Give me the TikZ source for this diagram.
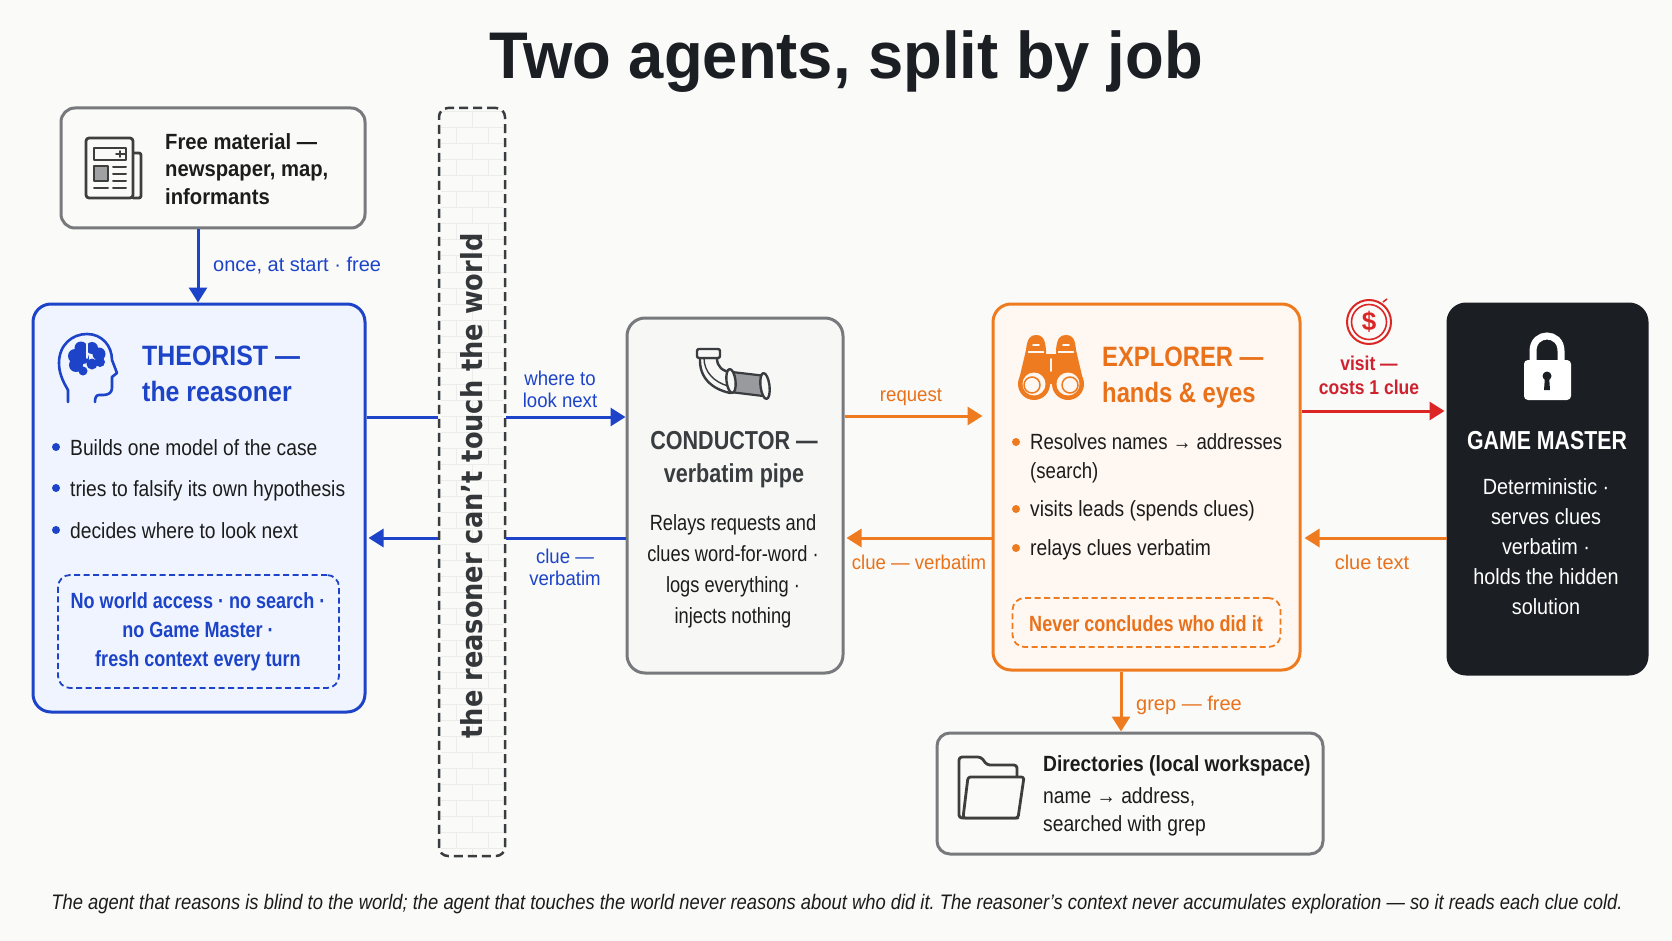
\documentclass[tikz,border=0pt]{standalone}
\usepackage{fontspec}
\setmainfont{Liberation Sans}
\newfontfamily\cond[FakeStretch=0.875]{Liberation Sans}
\newfontfamily\condn[FakeStretch=0.845]{Liberation Sans}
\newfontfamily\condg[FakeStretch=0.90]{Liberation Sans}
\newfontfamily\condc[FakeStretch=0.83]{Liberation Sans}
\newfontfamily\condx[FakeStretch=0.82]{Liberation Sans}
\newfontfamily\labf[FakeStretch=0.93]{Liberation Sans}
\newfontfamily\freef[FakeStretch=0.92]{Liberation Sans}
\newfontfamily\headf[FakeStretch=0.89]{Liberation Sans}
\newfontfamily\heade[FakeStretch=0.85]{Liberation Sans}
\newfontfamily\titlef[FakeStretch=0.96]{Liberation Sans}
\newfontfamily\dejav[FakeStretch=0.885]{DejaVu Sans}
\usetikzlibrary{arrows.meta}
\definecolor{bgc}{HTML}{FAFAF8}
\definecolor{blu}{HTML}{1D44C8}
\definecolor{blufill}{HTML}{EFF4FE}
\definecolor{org}{HTML}{EE7B20}
\definecolor{orgtxt}{HTML}{E8711A}
\definecolor{orgfill}{HTML}{FFF7F1}
\definecolor{redc}{HTML}{DC2626}
\definecolor{redt}{HTML}{CF2230}
\definecolor{dark}{HTML}{1B1F24}
\definecolor{gry}{HTML}{77797C}
\definecolor{ink}{HTML}{1C1C1C}
\definecolor{condcol}{HTML}{3A3D40}
\definecolor{brick}{HTML}{ECECEA}
\definecolor{condfill}{HTML}{F7F7F6}
\newcommand{\fs}[2]{\fontsize{#1}{#2}\selectfont}
\tikzset{
  panel/.style={draw, line width=3, rounded corners=18, inner sep=0},
  panelg/.style={panel, draw=gry, fill=#1},
  dashbox/.style={draw=#1, line width=1.8, dash pattern=on 6 off 3.5, rounded corners=12, inner sep=0},
  conn/.style={line width=3, draw=#1},
  arr/.style={line width=3, draw=#1, fill=#1, -{Triangle[length=15,width=18]}},
  txt/.style={inner sep=0, text=#1},
  lab/.style={inner sep=0, text=#1, font=\labf\fs{20}{22}, align=center},
  labw/.style={inner sep=0, text=#1, font=\fs{20}{22}, align=center},
  body/.style={inner sep=0, text=ink, font=\cond\fs{22}{29}, anchor=mid west},
  dotb/.style={circle, inner sep=0, minimum size=8, fill=#1},
  iconline/.style={line width=#1, line cap=round, line join=round},
}
\begin{document}
\begin{tikzpicture}[x=1pt,y=-1pt]
\useasboundingbox (0,0) rectangle (1672,941);
\fill[bgc] (0,0) rectangle (1672,941);

\node[inner sep=0, text=dark, font=\titlef\bfseries\fs{66}{70}] (title) at (846,62) {Two agents, split by job};

% ---- wall
\node[draw=none, fill=bgc, minimum width=66, minimum height=748, inner sep=0] (wallbg) at (472,482) {};
\begin{scope}
  \clip (441,110) rectangle (503,854);
  \foreach \r in {0,...,46}{
    \pgfmathsetmacro{\yy}{112+\r*16}
    \draw[brick, line width=1] (441,\yy) -- (503,\yy);
    \pgfmathsetmacro{\off}{mod(\r,2)*16}
    \foreach \c in {0,1,2}{
      \pgfmathsetmacro{\xx}{440+\off+\c*32}
      \draw[brick, line width=1] (\xx,\yy) -- (\xx,\yy+16);
    }
  }
\end{scope}
\node[draw=condcol, line width=2.5, dash pattern=on 9 off 5, rounded corners=9, minimum width=66, minimum height=748, inner sep=0] (wall) at (472,482) {};
\node[inner sep=0, rotate=90, text=condcol!90!black, font=\dejav\bfseries\fs{29}{32}] (walltext) at (472,486) {the reasoner can’t touch the world};

% ---- free material
\node[panelg=bgc, minimum width=304, minimum height=120, rounded corners=14] (free) at (213,168) {};
\node[txt=ink, font=\freef\bfseries\fs{22}{27.5}, align=left, anchor=west] (freetext) at (165,169) {Free material —\\newspaper, map,\\informants};
% newspaper icon
\draw[ink!85, iconline=2.8, rounded corners=2] (133,153) -- (141,153) -- (141,198) -- (133,198);
\draw[ink!85, iconline=2.8, fill=bgc, rounded corners=3] (86,138) rectangle (133,198);
\draw[ink!85, iconline=2] (94,148) rectangle (126,160);
\draw[ink!85, iconline=1.6] (116,154) -- (125,154) (120,151) -- (120,157);
\draw[ink!85, fill=gry!70, iconline=1.8] (94,166) rectangle (108,181);
\draw[ink!85, iconline=2] (113,167) -- (126,167) (113,174) -- (126,174) (113,181) -- (126,181) (94,188) -- (108,188) (113,188) -- (126,188);

% ---- theorist
\node[panel, draw=blu, fill=blufill, minimum width=332, minimum height=408] (theorist) at (199,508) {};
% head icon
\draw[blu, iconline=2.6] (68,402) -- (68,390) .. controls (62,380) and (59,372) .. (59,363) .. controls (59,345) and (72,334) .. (87,334) .. controls (102,334) and (112,346) .. (112,360) -- (117,373) -- (112,377) -- (112,388) .. controls (112,393) and (108,395) .. (103,395) -- (99,395) .. controls (96,395) and (95,398) .. (95,402);
\fill[blu] (75,356) circle (7) (81,348) circle (6.5) (76,365) circle (7) (83,371) circle (4.5) (92,348) circle (6) (99,354) circle (6.5) (100,362) circle (5) (92,364) circle (5.5) (83,358) circle (6);
\draw[blufill, iconline=1.6] (87,344) -- (87,358);
\node[txt=blu, font=\headf\bfseries\fs{28}{36}, align=left, anchor=west] (theoristh) at (142,374) {THEORIST —\\the reasoner};
\node[dotb=blu] (td1) at (56,447) {};
\node[dotb=blu] (td2) at (56,488) {};
\node[dotb=blu] (td3) at (56,530) {};
\node[body] (tb1) at (70,453) {Builds one model of the case};
\node[body] (tb2) at (70,494) {tries to falsify its own hypothesis};
\node[body] (tb3) at (70,536) {decides where to look next};
\node[dashbox=blu, minimum width=281, minimum height=113] (tdash) at (198.5,631.5) {};
\node[txt=blu, font=\condx\bfseries\fs{22}{28.7}, align=center] (tdasht) at (198,632) {No world access · no search ·\\no Game Master ·\\fresh context every turn};

% ---- conductor
\node[panelg=condfill, minimum width=216, minimum height=355] (conductor) at (735,495.5) {};
% pipe icon
\draw[condcol, fill=condfill, iconline=2.4] (700,358) .. controls (699,378) and (712,389) .. (730,393) -- (733,373) .. controls (722,371) and (717,367) .. (717,358) -- cycle;
\draw[condcol, iconline=1.4] (704,358) .. controls (704,372) and (714,382) .. (728,386);
\draw[condcol, fill=condfill, iconline=2.4, rounded corners=2] (697,349) rectangle (720,358);
\draw[condcol, fill=gry!75, iconline=2.2] (732,372) -- (766,376) -- (763,396) -- (730,392) -- cycle;
\draw[condcol, fill=condfill, iconline=2.4, rotate around={7:(731,381)}] (731,381) ellipse (4.5 and 12);
\draw[condcol, fill=condfill, iconline=2.4, rotate around={7:(765,386)}] (765,386) ellipse (4.5 and 13);
\node[txt=condcol, font=\condc\bfseries\fs{26}{33}, align=center] (condh) at (734,460) {CONDUCTOR —\\verbatim pipe};
\node[txt=ink, font=\condc\fs{22}{31}, align=center] (condb) at (733,571) {Relays requests and\\clues word-for-word ·\\logs everything ·\\injects nothing};

% ---- explorer
\node[panel, draw=org, fill=orgfill, minimum width=307, minimum height=366] (explorer) at (1146.5,487) {};
% binoculars
\fill[org] (1026,350) .. controls (1027,338) and (1031,335) .. (1036,335) .. controls (1042,335) and (1045,338) .. (1046,350) -- (1046,354) -- (1056,354) -- (1056,350) .. controls (1057,338) and (1060,335) .. (1066,335) .. controls (1072,335) and (1075,338) .. (1076,350) -- (1084,384) -- (1018,384) -- cycle;
\draw[orgfill, line width=1.4] (1028,352) -- (1044,352) (1058,352) -- (1074,352);
\draw[orgfill, iconline=1.8] (1033,345) -- (1039,345) (1063,345) -- (1069,345) (1051,359) -- (1051,371);
\fill[org] (1034,384) circle (16) (1068,384) circle (16);
\fill[orgfill] (1034,384) circle (11.5) (1068,384) circle (11.5);
\draw[org, line width=1.5] (1032,385) circle (8) (1070,385) circle (8);
\node[txt=orgtxt, font=\heade\bfseries\fs{28}{36}, align=left, anchor=west] (exploreh) at (1102,377.5) {EXPLORER —\\hands \& eyes};
\node[dotb=org] (ed1) at (1016,442) {};
\node[dotb=org] (ed2) at (1016,509) {};
\node[dotb=org] (ed3) at (1016,548) {};
\node[body, anchor=west, align=left, font=\condn\fs{22}{29}] (eb1) at (1030,458) {Resolves names → addresses\\(search)};
\node[body] (eb2) at (1030,514) {visits leads (spends clues)};
\node[body] (eb3) at (1030,553) {relays clues verbatim};
\node[dashbox=org, minimum width=268, minimum height=49] (edash) at (1146.5,622.5) {};
\node[txt=orgtxt, font=\condx\bfseries\fs{22}{26}] (edasht) at (1146,624) {Never concludes who did it};

% ---- game master
\node[panel, draw=dark, fill=dark, minimum width=199, minimum height=370] (gm) at (1547.5,489) {};
\draw[white, line width=7] (1533,362) -- (1533,351) .. controls (1533,331) and (1561,331) .. (1561,351) -- (1561,362);
\fill[white, rounded corners=4] (1524,360) rectangle (1571,400);
\fill[dark] (1547,376) circle (4.5);
\fill[dark] (1545,376) -- (1549,376) -- (1550,390) -- (1544,390) -- cycle;
\node[txt=white, font=\condx\bfseries\fs{26}{30}] (gmh) at (1547,441) {GAME MASTER};
\node[txt=white, font=\condg\fs{22}{30}, align=center] (gmb) at (1546,547) {Deterministic ·\\serves clues\\verbatim ·\\holds the hidden\\solution};

% ---- directories
\node[panelg=bgc, minimum width=386, minimum height=121, rounded corners=13] (dirs) at (1130,793.5) {};
\draw[ink!85, iconline=2.8, rounded corners=3] (1017,776) -- (1017,765) -- (987,765) -- (981,757) -- (959,757) -- (959,818) -- (1018,818);
\draw[ink!85, fill=bgc, iconline=2.8, rounded corners=2.5] (968,777) -- (1024,777) -- (1018,818) -- (963,818) -- cycle;
\node[txt=ink, font=\cond\bfseries\fs{22}{27}, anchor=mid west] (dirsh) at (1043,769) {Directories (local workspace)};
\node[txt=ink, font=\cond\fs{22}{28}, align=left, anchor=west] (dirsb) at (1043,812) {name → address,\\searched with grep};

% ---- coin
\draw[redc, line width=2] (1369,322) circle (22);
\draw[redc, line width=1.6] (1369,322) circle (17.5);
\draw[redc, line width=1.6] (1383,302) -- (1387,299);
\node[txt=redc, font=\bfseries\fs{26}{28}] (dollar) at (1369,322) {\$};

% ---- connectors
\coordinate (yA) at (0,417);
\coordinate (yB) at (0,538);
\draw[arr=blu] (free.south -| 198,0) -- (theorist.north -| 198,0);
\node[labw=blu, anchor=mid west] (l1) at (213,269) {once, at start · free};
\draw[conn=blu] (theorist.east |- yA) -- (wall.west |- yA);
\draw[arr=blu] (wall.east |- yA) -- (conductor.west |- yA);
\draw[conn=blu] (conductor.west |- yB) -- (wall.east |- yB);
\draw[arr=blu] (wall.west |- yB) -- ([xshift=2]theorist.east |- yB);
\node[lab=blu] (l2) at (560,389) {where to\\look next};
\node[lab=blu] (l3) at (565,567) {clue —\\verbatim};
\draw[arr=org] (conductor.east |- 0,416) -- ([xshift=-9]explorer.west |- 0,416);
\draw[arr=org] (explorer.west |- yB) -- ([xshift=2]conductor.east |- yB);
\node[lab=orgtxt] (l4) at (911,397) {request};
\node[lab=orgtxt] (l5) at (919,562) {clue — verbatim};
\draw[arr=redc] (explorer.east |- 0,411) -- ([xshift=-2]gm.west |- 0,411);
\node[lab=redt, font=\cond\bfseries\fs{20}{24}] (l6) at (1369,375.5) {visit —\\costs 1 clue};
\draw[arr=org] (gm.west |- yB) -- ([xshift=3]explorer.east |- yB);
\node[labw=orgtxt] (l7) at (1372,562) {clue text};
\draw[arr=org] (explorer.south -| 1121,0) -- (dirs.north -| 1121,0);
\node[lab=orgtxt, anchor=mid west, font=\fs{20}{22}] (l8) at (1136,707.5) {grep — free};

% ---- footer
\node[inner sep=0, text=ink, font=\cond\itshape\fs{21}{24}] (foot) at (837,904) {\frenchspacing The agent that reasons is blind to the world; the agent that touches the world never reasons about who did it. The reasoner’s context never accumulates exploration — so it reads each clue cold.};
\end{tikzpicture}
\end{document}
